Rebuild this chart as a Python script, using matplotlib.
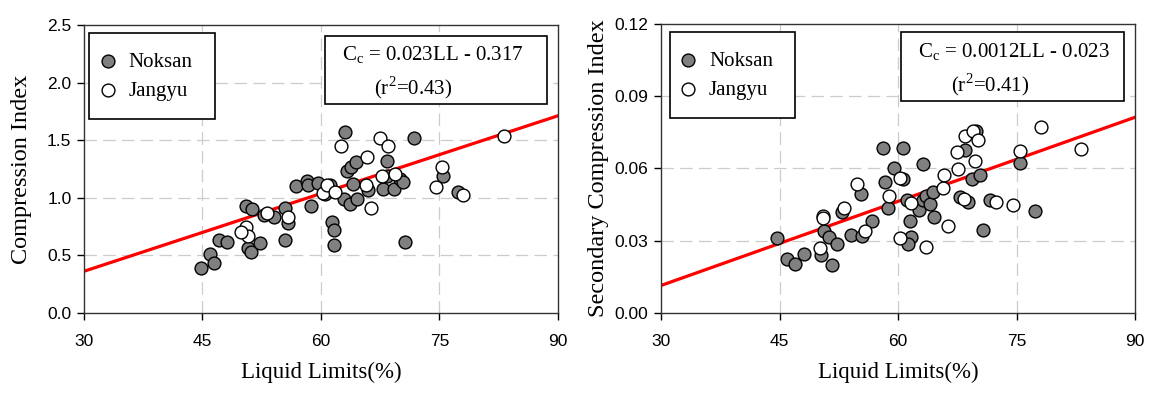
import matplotlib
matplotlib.use('Agg')
import matplotlib.pyplot as plt
from matplotlib.patches import Rectangle

# Compression index data (left panel)
cc_noksan_ll = [44.8, 46.0, 46.5, 47.1, 48.1, 50.5, 51.3, 50.7, 51.2, 52.3, 52.8, 54.0,
                55.4, 55.8, 55.4, 56.8, 58.2, 58.4, 58.7, 59.6, 61.1, 60.5, 61.4, 61.6,
                61.6, 63.1, 63.3, 63.8, 64.4, 62.9, 63.7, 64.1, 64.6, 66.0, 68.4, 67.8,
                69.2, 70.0, 70.4, 71.8, 70.6, 75.4, 77.3, 68.4]
cc_noksan = [0.39, 0.51, 0.43, 0.63, 0.62, 0.93, 0.90, 0.56, 0.53, 0.61, 0.85, 0.83,
             0.91, 0.78, 0.63, 1.10, 1.15, 1.11, 0.93, 1.13, 1.11, 1.03, 0.79, 0.72,
             0.59, 1.57, 1.23, 1.27, 1.31, 0.99, 0.95, 1.12, 0.99, 1.07, 1.32, 1.08,
             1.08, 1.16, 1.14, 1.52, 0.62, 1.19, 1.05, 1.19]
cc_jangyu_ll = [50.5, 50.7, 49.9, 53.2, 55.8, 60.2, 60.8, 61.8, 62.5, 65.7, 65.8, 66.3,
                67.5, 68.5, 67.7, 69.4, 74.5, 75.3, 78.0, 83.2]
cc_jangyu = [0.75, 0.67, 0.70, 0.87, 0.83, 1.04, 1.11, 1.05, 1.45, 1.11, 1.35, 0.91,
             1.52, 1.45, 1.19, 1.21, 1.09, 1.27, 1.02, 1.54]
cc_fit = (0.0225, -0.313)

# Secondary compression index data (right panel)
ca_noksan_ll = [44.7, 46.0, 47.0, 48.1, 50.3, 50.6, 51.3, 51.6, 52.3, 52.9, 54.0, 55.3,
                55.4, 56.7, 58.1, 58.4, 58.7, 59.5, 60.6, 60.6, 61.1, 61.5, 61.7, 61.3,
                62.7, 63.1, 63.2, 63.6, 64.0, 64.4, 64.5, 68.5, 68.8, 69.4, 70.4, 70.7,
                71.7, 75.5, 77.3, 69.9, 67.8]
ca_noksan = [0.0310, 0.0225, 0.0205, 0.0246, 0.0240, 0.0341, 0.0315, 0.0200, 0.0286, 0.0419,
             0.0325, 0.0492, 0.0318, 0.0383, 0.0686, 0.0545, 0.0435, 0.0601, 0.0556, 0.0687,
             0.0470, 0.0384, 0.0314, 0.0285, 0.0429, 0.0469, 0.0619, 0.0487, 0.0453, 0.0502,
             0.0398, 0.0677, 0.0459, 0.0557, 0.0574, 0.0343, 0.0470, 0.0621, 0.0423, 0.0756,
             0.0481]
ca_jangyu_ll = [50.1, 50.5, 50.5, 53.1, 54.8, 55.8, 58.8, 60.2, 60.3, 61.7, 63.5, 65.8,
                65.7, 66.3, 67.5, 67.6, 68.3, 68.5, 69.5, 70.1, 69.8, 72.4, 74.5, 75.4,
                78.1, 83.2]
ca_jangyu = [0.0271, 0.0401, 0.0394, 0.0434, 0.0536, 0.0339, 0.0484, 0.0560, 0.0310, 0.0456,
             0.0274, 0.0574, 0.0521, 0.0362, 0.0668, 0.0597, 0.0473, 0.0735, 0.0756, 0.0719,
             0.0629, 0.0462, 0.0447, 0.0672, 0.0771, 0.0682]
ca_fit = (0.001164, -0.0235)

x_ticks = [30, 45, 60, 75, 90]
cc_ticks = [0.0, 0.5, 1.0, 1.5, 2.0, 2.5]
ca_ticks = [0.00, 0.03, 0.06, 0.09, 0.12]

# tick labels are sans, everything else is set to serif explicitly
plt.rcParams['font.family'] = 'Liberation Sans'
plt.rcParams['mathtext.fontset'] = 'custom'
plt.rcParams['mathtext.rm'] = 'Liberation Serif'

serif = 'Liberation Serif'
c_gray = '#808080'
c_grid = '#cccccc'


def draw_panel(ax, nx, ny, jx, jy, fit, yticks, ylabel, yfmt, eq1, eq2,
               legbox, legpos, eqbox, eqpos):
    ax.set_xlim(30, 90)
    ax.set_ylim(yticks[0], yticks[-1])
    ax.set_xticks(x_ticks)
    ax.set_yticks(yticks)
    ax.set_yticklabels([yfmt.format(v) for v in yticks])
    for v in x_ticks[1:-1]:
        ax.axvline(v, color=c_grid, linestyle=(0, (10, 5)), linewidth=0.9, zorder=0)
    for v in yticks[1:-1]:
        ax.axhline(v, color=c_grid, linestyle=(0, (10, 5)), linewidth=0.9, zorder=0)

    ax.plot([30, 90], [fit[0] * 30 + fit[1], fit[0] * 90 + fit[1]],
            color='red', linewidth=2.3, zorder=2)
    ax.scatter(nx, ny, s=85, facecolor=c_gray, edgecolor='black', linewidth=1.0,
               zorder=3, label='Noksan')
    ax.scatter(jx, jy, s=85, facecolor='white', edgecolor='black', linewidth=1.0,
               zorder=4, label='Jangyu')

    ax.tick_params(direction='out', length=5, width=1, top=False, right=False,
                   labelsize=12.5)
    ax.tick_params(axis='x', pad=10)
    ax.tick_params(axis='y', pad=4)
    for sp in ax.spines.values():
        sp.set_linewidth(1.0)
        sp.set_color('#333333')

    ax.set_xlabel('Liquid Limits(%)', fontfamily=serif, fontsize=16.5)
    ax.xaxis.set_label_coords(0.5, -0.17)
    ax.set_ylabel(ylabel, fontfamily=serif, fontsize=17.5)
    ax.yaxis.set_label_coords(-0.11, 0.5)

    # legend frame and entries
    x0, y0, x1, y1 = legbox
    ax.add_patch(Rectangle((x0, y0), x1 - x0, y1 - y0, transform=ax.transAxes,
                           facecolor='white', edgecolor='black', linewidth=1.2,
                           zorder=5))
    leg = ax.legend(loc='center left', bbox_to_anchor=legpos, borderaxespad=0,
                    frameon=False, prop={'family': serif, 'size': 15},
                    handletextpad=0.5, borderpad=0, labelspacing=0.45,
                    handlelength=1.0, markerscale=1.0)
    leg.set_zorder(6)

    x0, y0, x1, y1 = eqbox
    ax.add_patch(Rectangle((x0, y0), x1 - x0, y1 - y0, transform=ax.transAxes,
                           facecolor='white', edgecolor='black', linewidth=1.2,
                           zorder=5))
    ax.text(eqpos[0], eqpos[1], eq1, transform=ax.transAxes, ha='center', va='center',
            fontfamily=serif, fontsize=15, zorder=6)
    ax.text(eqpos[2], eqpos[3], eq2, transform=ax.transAxes, ha='center', va='center',
            fontfamily=serif, fontsize=15, zorder=6)


fig = plt.figure(figsize=(11.55, 3.93), dpi=100)
ax1 = fig.add_axes([0.0727, 0.2036, 0.4104, 0.7328])
ax2 = fig.add_axes([0.5723, 0.2036, 0.4104, 0.7354])

draw_panel(ax1, cc_noksan_ll, cc_noksan, cc_jangyu_ll, cc_jangyu, cc_fit, cc_ticks,
           'Compression Index', '{:.1f}',
           r'C$_{\mathrm{c}}$ = 0.023LL - 0.317', r'(r$^{\mathrm{2}}$=0.43)',
           (0.0105, 0.674, 0.276, 0.972), (0.0285, 0.821),
           (0.508, 0.726, 0.977, 0.962), (0.736, 0.896, 0.694, 0.781))
draw_panel(ax2, ca_noksan_ll, ca_noksan, ca_jangyu_ll, ca_jangyu, ca_fit, ca_ticks,
           'Secondary Compression Index', '{:.2f}',
           r'C$_{\mathrm{c}}$ = 0.0012LL - 0.023', r'(r$^{\mathrm{2}}$=0.41)',
           (0.019, 0.675, 0.283, 0.972), (0.0354, 0.822),
           (0.506, 0.734, 0.977, 0.972), (0.745, 0.903, 0.694, 0.789))

fig.savefig('out.png', dpi=100, facecolor='white')
plt.close(fig)
